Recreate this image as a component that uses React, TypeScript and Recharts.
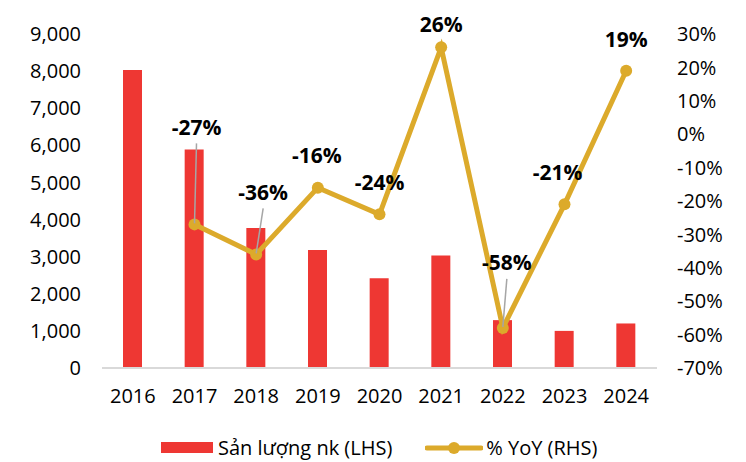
import React from 'react';
import { ComposedChart, Bar, Line, XAxis, YAxis, Legend, LabelList } from 'recharts';

const years = ['2016', '2017', '2018', '2019', '2020', '2021', '2022', '2023', '2024'];
const volume = [8030, 5890, 3770, 3180, 2420, 3030, 1290, 1000, 1200];
const yoy = [null, -27, -36, -16, -24, 26, -58, -21, 19];

const leftTicks = [0, 1000, 2000, 3000, 4000, 5000, 6000, 7000, 8000, 9000];
const rightTicks = [-70, -60, -50, -40, -30, -20, -10, 0, 10, 20, 30];

const barName = 'Sản lượng nk (LHS)';
const lineName = '% YoY (RHS)';

const data = years.map((year, i) => ({ year, volume: volume[i], yoy: yoy[i] }));

const RED = '#EE3733';
const GOLD = '#DCAA2B';
const FONT = '"Open Sans", "Noto Sans", sans-serif';

// label nudges so they sit like the original (dx, dy from the point, leader line or not)
const labelNudge: Record<string, [number, number, boolean]> = {
  '2017': [2, -97, true],
  '2018': [7, -62, true],
  '2019': [-1, -32, false],
  '2020': [0, -32, false],
  '2021': [0, -23, false],
  '2022': [4, -65, true],
  '2023': [-7, -32, false],
  '2024': [0, -31, false],
};

const YoyLabel = (props: any) => {
  const { x, y, value, index } = props;
  if (value == null) return null;
  const nudge = labelNudge[years[index]] || [0, -30, false];
  const cx = x + nudge[0];
  const cy = y + nudge[1];
  return (
    <g>
      {nudge[2] && (
        <line x1={cx} y1={cy + 16} x2={x} y2={y - 1} stroke="#a6a6a6" strokeWidth={1.5} />
      )}
      <text
        x={cx}
        y={cy + 7.5}
        textAnchor="middle"
        fontFamily={FONT}
        fontSize={21}
        fontWeight={700}
        fill="#000"
      >
        {`${value}%`}
      </text>
    </g>
  );
};

const ChartLegend = () => (
  <div
    style={{
      display: 'flex',
      alignItems: 'center',
      fontFamily: FONT,
      fontSize: 20,
      color: '#000',
      paddingLeft: 161,
    }}
  >
    <span style={{ display: 'inline-block', width: 52, height: 11, background: RED, marginRight: 5 }} />
    <span>{barName}</span>
    <svg width={58} height={14} style={{ marginLeft: 33, marginRight: 3 }}>
      <line x1={2} y1={7} x2={56} y2={7} stroke={GOLD} strokeWidth={5} strokeLinecap="round" />
      <circle cx={29} cy={7} r={6} fill={GOLD} />
    </svg>
    <span>{lineName}</span>
  </div>
);

export default function App() {
  return (
    <div style={{ position: 'absolute', left: 0, top: 0, width: 746, height: 462, background: '#fff' }}>
      <ComposedChart
        width={746}
        height={462}
        data={data}
        margin={{ top: 34, right: 0, bottom: 0, left: 0 }}
      >
        <XAxis
          dataKey="year"
          axisLine={{ stroke: '#d9d9d9', strokeWidth: 2 }}
          tickLine={false}
          tickMargin={15}
          height={94}
          tick={{ fontFamily: FONT, fontSize: 20, fill: '#000' }}
        />
        <YAxis
          yAxisId="left"
          width={102}
          domain={[0, 9000]}
          ticks={leftTicks}
          interval={0}
          axisLine={false}
          tickLine={false}
          tickMargin={15}
          tickFormatter={(v: number) => v.toLocaleString('en-US')}
          tick={{ fontFamily: FONT, fontSize: 20, fill: '#000' }}
        />
        <YAxis
          yAxisId="right"
          orientation="right"
          width={89}
          domain={[-70, 30]}
          ticks={rightTicks}
          interval={0}
          axisLine={false}
          tickLine={false}
          tickMargin={14}
          tickFormatter={(v: number) => `${v}%`}
          tick={{ fontFamily: FONT, fontSize: 20, fill: '#000', textAnchor: 'start' }}
        />
        <Legend
          layout="horizontal"
          verticalAlign="middle"
          align="center"
          wrapperStyle={{ top: 434, left: 0, width: 746 }}
          content={() => <ChartLegend />}
        />
        <Bar
          yAxisId="left"
          dataKey="volume"
          name={barName}
          fill={RED}
          barSize={19}
          isAnimationActive={false}
        />
        <Line
          yAxisId="right"
          dataKey="yoy"
          name={lineName}
          stroke={GOLD}
          strokeWidth={5}
          dot={{ r: 6, fill: GOLD, stroke: 'none' }}
          activeDot={false}
          isAnimationActive={false}
        >
          <LabelList dataKey="yoy" content={<YoyLabel />} />
        </Line>
      </ComposedChart>
    </div>
  );
}
